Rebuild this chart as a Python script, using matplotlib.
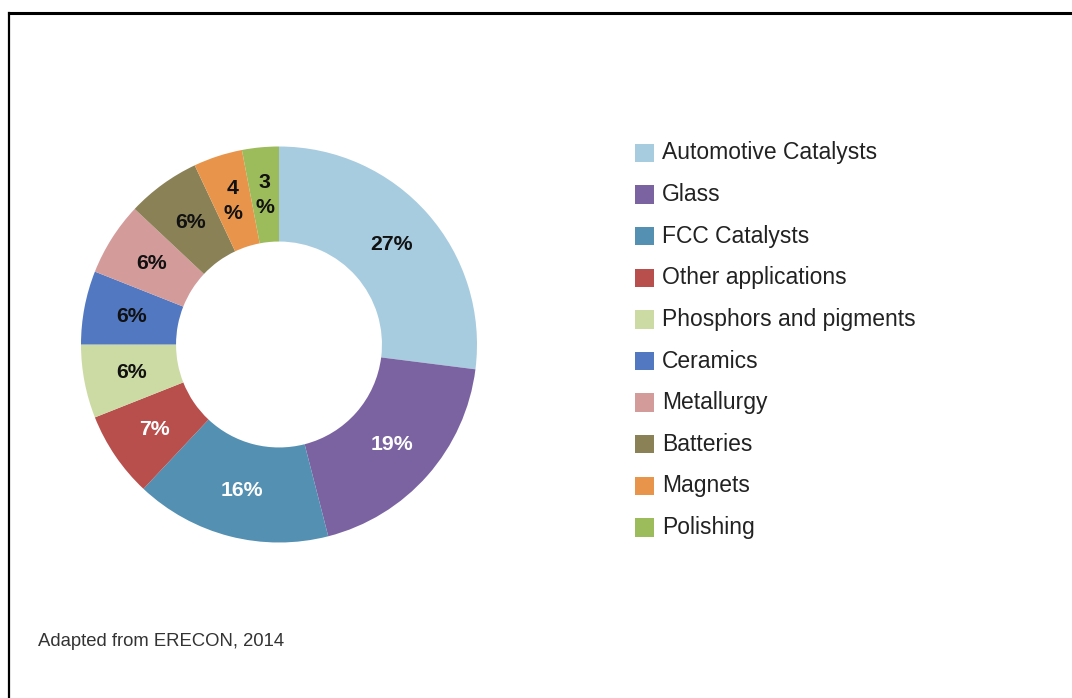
import matplotlib
matplotlib.use("Agg")
import matplotlib.pyplot as plt
from matplotlib.patches import Rectangle
from matplotlib.lines import Line2D
import numpy as np

plt.rcParams['font.family'] = ['Liberation Sans', 'DejaVu Sans']

# Rare earth end uses (share of demand, %)
categories = ["Automotive Catalysts", "Glass", "FCC Catalysts", "Other applications",
              "Phosphors and pigments", "Ceramics", "Metallurgy", "Batteries",
              "Magnets", "Polishing"]
shares = [27, 19, 16, 7, 6, 6, 6, 6, 4, 3]
value_labels = ["27%", "19%", "16%", "7%", "6%", "6%", "6%", "6%", "4\n%", "3\n%"]
colors = ["#A8CCDF", "#7B63A2", "#5490B2", "#B84F4C", "#CCDBA4",
          "#5278C2", "#D49B9B", "#8B8157", "#E8954B", "#9CBB5A"]
label_colors = ["#111111", "white", "white", "white", "#111111",
                "#111111", "#111111", "#111111", "#111111", "#111111"]
source_note = "Adapted from ERECON, 2014"

W, H = 1072, 698
fig = plt.figure(figsize=(W / 100, H / 100), dpi=100)
fig.patch.set_facecolor("white")

# donut placement (pixels)
cx, cy, R = 279, 344.5, 198
ax = fig.add_axes([(cx - R) / W, (H - cy - R) / H, 2 * R / W, 2 * R / H])
ring = 0.48
wedges, _ = ax.pie(shares, colors=colors, startangle=90, counterclock=False,
                   radius=1.0, wedgeprops=dict(width=ring, linewidth=0))
ax.set_xlim(-1, 1)
ax.set_ylim(-1, 1)
ax.set_aspect("equal")
ax.axis("off")

total = sum(shares)
start = 90.0
r_mid = 1 - ring / 2
for w, lab, lc in zip(shares, value_labels, label_colors):
    ang = np.deg2rad(start - 360.0 * w / total / 2)
    start -= 360.0 * w / total
    ax.text(r_mid * np.cos(ang), r_mid * np.sin(ang), lab, ha="center", va="center",
            fontsize=15.3, fontweight="bold", color=lc, linespacing=1.4)

# legend, drawn as colour squares with labels
lx, ly0, dy = 635, 153, 41.6
sq = 18.5
for i, (name, col) in enumerate(zip(categories, colors)):
    y = ly0 + i * dy
    fig.patches.append(Rectangle((lx / W, (H - y - sq / 2) / H), sq / W, sq / H,
                                 transform=fig.transFigure, facecolor=col,
                                 edgecolor="none"))
    fig.text(662 / W, (H - y) / H, name, ha="left", va="center",
             fontsize=16.5, color="#222222")

fig.text(38 / W, (H - 641) / H, source_note, ha="left", va="center",
         fontsize=13.3, color="#333333")

# frame lines along the top and left edges
fig.add_artist(Line2D([8.5 / W, 8.5 / W], [0, (H - 13) / H], transform=fig.transFigure,
                      color="black", linewidth=1.6))
fig.add_artist(Line2D([8.5 / W, 1], [(H - 13) / H, (H - 13) / H], transform=fig.transFigure,
                      color="black", linewidth=2.2))

fig.savefig("out.png", dpi=100, facecolor="white")
